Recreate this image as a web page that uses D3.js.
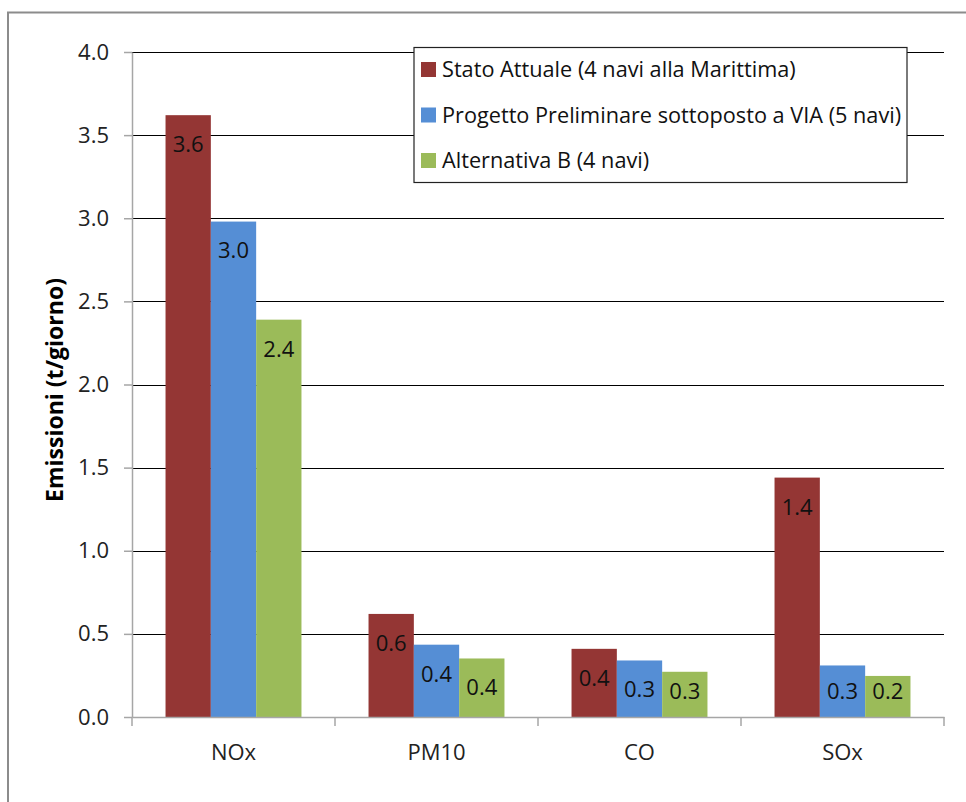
<!DOCTYPE html>
<html>
<head>
<meta charset="utf-8">
<script src="https://cdn.jsdelivr.net/npm/d3@7"></script>
<style>
  html, body { margin: 0; padding: 0; background: #fff; }
  svg { display: block; font-family: "Open Sans", sans-serif; }
</style>
</head>
<body>
<svg id="chart" width="966" height="802"></svg>
<script>
// Pollutants on the x axis
const categories = ["NOx", "PM10", "CO", "SOx"];
// Scenario names
const seriesNames = [
  "Stato Attuale (4 navi alla Marittima)",
  "Progetto Preliminare sottoposto a VIA (5 navi)",
  "Alternativa B (4 navi)"
];
// Daily emissions (t/giorno) per scenario, same order as categories
const statoAttuale = [3.62, 0.62, 0.41, 1.44];
const progettoPreliminare = [2.98, 0.435, 0.34, 0.31];
const alternativaB = [2.39, 0.352, 0.272, 0.247];
const seriesColors = ["#943634", "#558ED5", "#9BBB59"];
const yTicks = [0, 0.5, 1.0, 1.5, 2.0, 2.5, 3.0, 3.5, 4.0];

const seriesValues = [statoAttuale, progettoPreliminare, alternativaB];
const FONT = "'Open Sans', sans-serif";
const FS = 22;

const svg = d3.select("#chart");
const plot = { left: 132, right: 944, top: 52, bottom: 717 };

// Outer chart frame
svg.append("rect")
  .attr("x", 8).attr("y", 12.5).attr("width", 990).attr("height", 820)
  .attr("fill", "#fff").attr("stroke", "#8c8c8c").attr("stroke-width", 2);

const y = d3.scaleLinear().domain([0, 4]).range([plot.bottom, plot.top]);
const x0 = d3.scaleBand().domain(categories).range([plot.left, plot.right]).paddingInner(0).paddingOuter(0);
const x1 = d3.scaleBand().domain(d3.range(seriesNames.length))
  .range([0, x0.bandwidth()]).paddingInner(0).paddingOuter(0.74);

// Horizontal gridlines
svg.append("g")
  .selectAll("line")
  .data(yTicks.filter(d => d > 0))
  .join("line")
  .attr("x1", plot.left).attr("x2", plot.right)
  .attr("y1", d => Math.round(y(d)) + 0.5).attr("y2", d => Math.round(y(d)) + 0.5)
  .attr("stroke", "#000").attr("stroke-width", 1.2);

// Y axis
const yAxis = svg.append("g")
  .attr("transform", `translate(${plot.left},0)`)
  .call(d3.axisLeft(y).tickValues(yTicks).tickFormat(d3.format(".1f")).tickSize(8).tickSizeOuter(0).tickPadding(15));
yAxis.select(".domain").attr("stroke", "#a6a6a6").attr("stroke-width", 1.5);
yAxis.selectAll(".tick line").attr("stroke", "#a6a6a6").attr("stroke-width", 1.5);
yAxis.selectAll(".tick text").attr("font-size", FS).attr("fill", "#222").attr("font-family", FONT);

// Bars
const groups = svg.append("g")
  .selectAll("g")
  .data(categories)
  .join("g")
  .attr("transform", d => `translate(${x0(d)},0)`);

groups.selectAll("rect")
  .data((c, ci) => seriesValues.map((vals, si) => ({ si, v: vals[ci] })))
  .join("rect")
  .attr("x", d => x1(d.si))
  .attr("width", x1.bandwidth())
  .attr("y", d => y(d.v))
  .attr("height", d => y(0) - y(d.v))
  .attr("fill", d => seriesColors[d.si]);

// Value labels inside the top of each bar
groups.selectAll("text")
  .data((c, ci) => seriesValues.map((vals, si) => ({ si, v: vals[ci] })))
  .join("text")
  .attr("x", d => x1(d.si) + x1.bandwidth() / 2)
  .attr("y", d => Math.min(y(d.v) + 29, y(0) - 26))
  .attr("dy", "0.36em")
  .attr("text-anchor", "middle")
  .attr("font-size", FS)
  .attr("fill", "#111")
  .text(d => d.v.toFixed(1));

// X axis
const xAxis = svg.append("g")
  .attr("transform", `translate(0,${plot.bottom})`)
  .call(d3.axisBottom(x0).tickSize(0).tickPadding(27));
xAxis.select(".domain").attr("stroke", "#a6a6a6").attr("stroke-width", 1.5);
xAxis.selectAll(".tick text").attr("font-size", FS).attr("fill", "#222").attr("font-family", FONT);
// Category separators below the axis
xAxis.append("g")
  .selectAll("line")
  .data(d3.range(categories.length + 1))
  .join("line")
  .attr("x1", i => plot.left + i * x0.bandwidth())
  .attr("x2", i => plot.left + i * x0.bandwidth())
  .attr("y1", 0).attr("y2", 9)
  .attr("stroke", "#a6a6a6").attr("stroke-width", 1.5);

// Y axis title
svg.append("text")
  .attr("transform", "translate(63,390) rotate(-90)")
  .attr("text-anchor", "middle")
  .attr("font-size", 23)
  .attr("font-weight", "bold")
  .attr("fill", "#000")
  .text("Emissioni (t/giorno)");

// Legend
const legend = svg.append("g").attr("transform", "translate(414,47.5)");
legend.append("rect")
  .attr("width", 493).attr("height", 135)
  .attr("fill", "#fff").attr("stroke", "#222").attr("stroke-width", 1.2);
const items = legend.selectAll("g.item")
  .data(seriesNames)
  .join("g")
  .attr("class", "item")
  .attr("transform", (d, i) => `translate(0,${22 + i * 45.5})`);
items.append("rect")
  .attr("x", 7).attr("y", -7.5).attr("width", 15).attr("height", 15)
  .attr("fill", (d, i) => seriesColors[i]);
items.append("text")
  .attr("x", 28).attr("dy", "0.36em")
  .attr("font-size", 21.7)
  .attr("fill", "#111")
  .text(d => d);
</script>
</body>
</html>
